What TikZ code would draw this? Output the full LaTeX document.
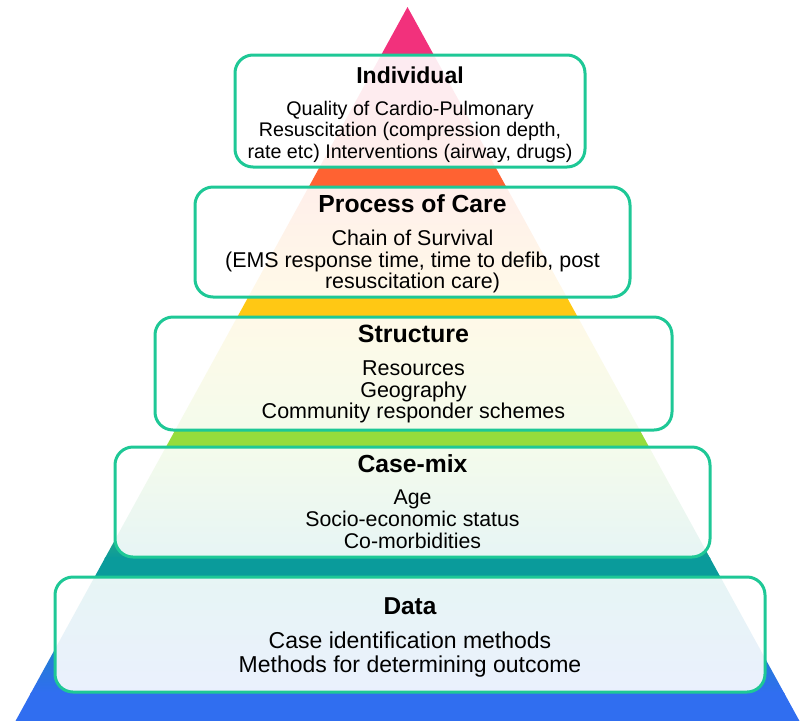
\documentclass[tikz,border=0pt]{standalone}
\usepackage{fontspec}
\setmainfont{Liberation Sans}
\usepackage{tikz}

\definecolor{lvlpink}{HTML}{F2317C}
\definecolor{lvlorange}{HTML}{FF6232}
\definecolor{lvlyellow}{HTML}{FFC814}
\definecolor{lvlgreen}{HTML}{96DC3C}
\definecolor{lvlteal}{HTML}{0A9B9B}
\definecolor{lvlblue}{HTML}{306EF0}
\definecolor{boxgreen}{HTML}{1EC896}

\begin{document}
\begin{tikzpicture}[
    x=1pt,y=-1pt,
    lvl/.style={
      draw=boxgreen,line width=3pt,rounded corners=18pt,
      fill=white,fill opacity=0.9,inner sep=0pt
    },
    lvltitle/.style={
      anchor=base,inner sep=0pt,font=\bfseries\fontsize{#1}{#1}\selectfont
    },
    lvltext/.style 2 args={
      align=center,anchor=north,inner sep=0pt,font=\fontsize{#1}{#2}\selectfont
    },
  ]
  \useasboundingbox (0,0) rectangle (806,721);
  \coordinate (apex) at (407.5,7);
  \coordinate (baseL) at (15.5,721);
  \coordinate (baseR) at (799.5,721);
  % coloured bands of the pyramid, blended behind the boxes
  \begin{scope}
    \clip (apex) -- (baseL) -- (baseR) -- cycle;
    \fill[lvlpink] (0,0) rectangle (806,56);
    \shade[top color=lvlpink,bottom color=lvlorange] (0,55) rectangle (806,167);
    \fill[lvlorange] (0,166) rectangle (806,188);
    \shade[top color=lvlorange,bottom color=lvlyellow] (0,187) rectangle (806,298);
    \fill[lvlyellow] (0,297) rectangle (806,318);
    \shade[top color=lvlyellow,bottom color=lvlgreen] (0,317) rectangle (806,431);
    \fill[lvlgreen] (0,430) rectangle (806,448);
    \shade[top color=lvlgreen,bottom color=lvlteal] (0,447) rectangle (806,558);
    \fill[lvlteal] (0,557) rectangle (806,578);
    \shade[top color=lvlteal,bottom color=lvlblue] (0,577) rectangle (806,693);
    \fill[lvlblue] (0,692) rectangle (806,721);
  \end{scope}
  % level boxes
  \node[lvl,minimum width=350pt,minimum height=112pt] (ind) at (410,111) {};
  \node[lvl,minimum width=435pt,minimum height=110pt] (care) at (412.5,242) {};
  \node[lvl,minimum width=517pt,minimum height=113pt] (struct) at (413.5,373.5) {};
  \node[lvl,minimum width=595pt,minimum height=110pt] (mix) at (412.5,502) {};
  \node[lvl,minimum width=710pt,minimum height=115pt] (data) at (410,634.5) {};
  % titles
  \node[lvltitle=23] (indT) at (410,83) {Individual};
  \node[lvltitle=24.7] (careT) at (412.5,212.3) {Process of Care};
  \node[lvltitle=25] (structT) at (413.5,342) {Structure};
  \node[lvltitle=24.7] (mixT) at (412.5,472) {Case-mix};
  \node[lvltitle=24.4] (dataT) at (410,614.7) {Data};
  % contents
  \node[lvltext={19.7}{21.7}] (indB) at (410,100.6)
    {Quality of Cardio-Pulmonary\\Resuscitation (compression depth,\\rate etc) Interventions (airway, drugs)};
  \node[lvltext={21.4}{21.3}] (careB) at (412.5,230)
    {Chain of Survival\\(EMS response time, time to defib, post\\resuscitation care)};
  \node[lvltext={21.5}{21.5}] (structB) at (413.5,360.6)
    {Resources\\Geography\\Community responder schemes};
  \node[lvltext={21.3}{21.7}] (mixB) at (412.5,490)
    {Age\\Socio-economic status\\Co-morbidities};
  \node[lvltext={23}{23.3}] (dataB) at (410,632)
    {Case identification methods\\Methods for determining outcome};
\end{tikzpicture}
\end{document}
